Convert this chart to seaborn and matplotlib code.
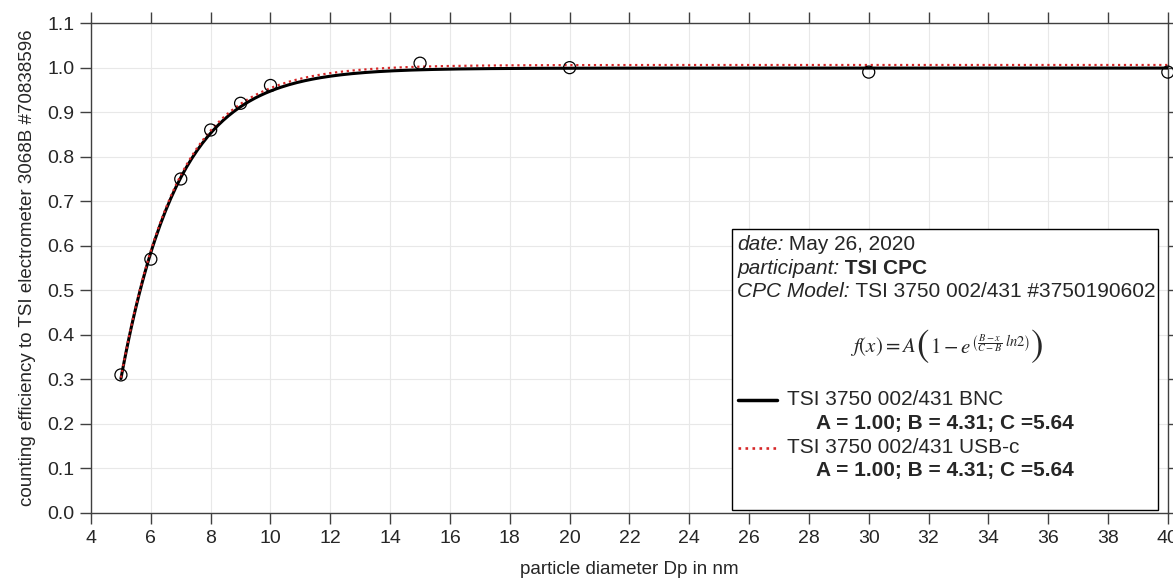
import numpy as np
import pandas as pd
import matplotlib
matplotlib.use("Agg")
import matplotlib.pyplot as plt
from matplotlib.lines import Line2D
from matplotlib.patches import Rectangle
import seaborn as sns

# measured points
diameter = [5, 6, 7, 8, 9, 10, 15, 20, 30, 40]
efficiency = [0.31, 0.57, 0.75, 0.86, 0.92, 0.96, 1.01, 1.00, 0.99, 0.99]

# fit parameters (A, B, C) per channel
fit_names = ["TSI 3750 002/431 BNC", "TSI 3750 002/431 USB-c"]
fit_A = [0.999, 1.006]
fit_B = [4.31, 4.31]
fit_C = [5.64, 5.64]
fit_labels = ["A = 1.00; B = 4.31; C =5.64", "A = 1.00; B = 4.31; C =5.64"]
fit_colors = ["black", "#d62728"]
fit_styles = ["-", ":"]
fit_widths = [2.2, 1.6]

xticks = list(range(4, 41, 2))
yticks = [round(0.1 * i, 1) for i in range(12)]

sns.set_style("ticks")
plt.rcParams["font.family"] = ["Liberation Sans", "DejaVu Sans"]
plt.rcParams["mathtext.fontset"] = "stix"

fig = plt.figure(figsize=(11.73, 5.78), dpi=100)
ax = fig.add_axes([0.0776, 0.1125, 0.918, 0.8475])

# fit curves
xs = np.linspace(5, 40, 400)
for i in range(2):
    ys = fit_A[i] * (1 - np.exp((fit_B[i] - xs) / (fit_C[i] - fit_B[i]) * np.log(2)))
    df = pd.DataFrame({"x": xs, "y": ys})
    sns.lineplot(data=df, x="x", y="y", ax=ax, color=fit_colors[i],
                 linestyle=fit_styles[i], linewidth=fit_widths[i], zorder=3 + i)

pts = pd.DataFrame({"x": diameter, "y": efficiency})
sns.scatterplot(data=pts, x="x", y="y", ax=ax, marker="o", s=75,
                facecolor="none", edgecolor="black", linewidth=0.9, zorder=6, clip_on=False)

ax.set_xlim(4, 40)
ax.set_ylim(0, 1.1)
ax.set_xticks(xticks)
ax.set_yticks(yticks)
ax.set_yticklabels([f"{v:.1f}" for v in yticks])
ax.grid(True, color="#e8e8e8", linewidth=0.8)
ax.set_axisbelow(True)
for s in ax.spines.values():
    s.set_color("#404040")
    s.set_linewidth(1.0)
ax.tick_params(axis="both", which="major", direction="out", length=8, width=1,
               color="#404040", labelsize=14, top=True, right=True,
               labeltop=False, labelright=False, pad=4)
ax.set_xlabel("particle diameter Dp in nm", fontsize=13.5, labelpad=10)
ax.set_ylabel("counting efficiency to TSI electrometer 3068B #70838596", fontsize=13.5, labelpad=8)

# info box
ax.add_patch(Rectangle((0.595, 0.006), 0.396, 0.574, transform=ax.transAxes,
                       facecolor="white", edgecolor="black", linewidth=1.0, zorder=7))

def two_part(y, first, second, weight2="normal"):
    t = ax.text(0.600, y, first, transform=ax.transAxes, fontsize=15, style="italic",
                va="center", ha="left", zorder=8)
    ax.annotate(second, xy=(1, 0), xycoords=t, fontsize=15, weight=weight2,
                va="bottom", ha="left", zorder=8)

two_part(0.549, "date:", " May 26, 2020")
two_part(0.500, "participant:", " TSI CPC", "bold")
two_part(0.453, "CPC Model:", " TSI 3750 002/431 #3750190602")

# formula, with large outer parentheses
f1 = ax.text(0.705, 0.340, r"$f(x) = A$", transform=ax.transAxes, fontsize=15,
             va="center", ha="left", zorder=8)
p1 = ax.annotate(r"$($", xy=(1, 0.5), xycoords=f1, fontsize=27, va="center",
                 ha="left", zorder=8)
f2 = ax.annotate(r"$1 - e^{\left(\frac{B-x}{C-B}\;ln2\right)}$", xy=(1, 0.5), xycoords=p1,
                 fontsize=15, va="center", ha="left", zorder=8)
ax.annotate(r"$)$", xy=(1, 0.5), xycoords=f2, fontsize=27, va="center",
            ha="left", zorder=8)

rows = [0.231, 0.182, 0.133, 0.086]
for i in range(2):
    ax.add_line(Line2D([0.601, 0.637], [rows[2 * i], rows[2 * i]], transform=ax.transAxes,
                       color=fit_colors[i], linestyle=fit_styles[i],
                       linewidth=fit_widths[i] + 0.3, zorder=8))
    ax.text(0.646, rows[2 * i], fit_names[i], transform=ax.transAxes, fontsize=15,
            va="center", ha="left", zorder=8)
    ax.text(0.673, rows[2 * i + 1], fit_labels[i], transform=ax.transAxes, fontsize=15,
            weight="bold", va="center", ha="left", zorder=8)

fig.savefig("out.png", dpi=100)
